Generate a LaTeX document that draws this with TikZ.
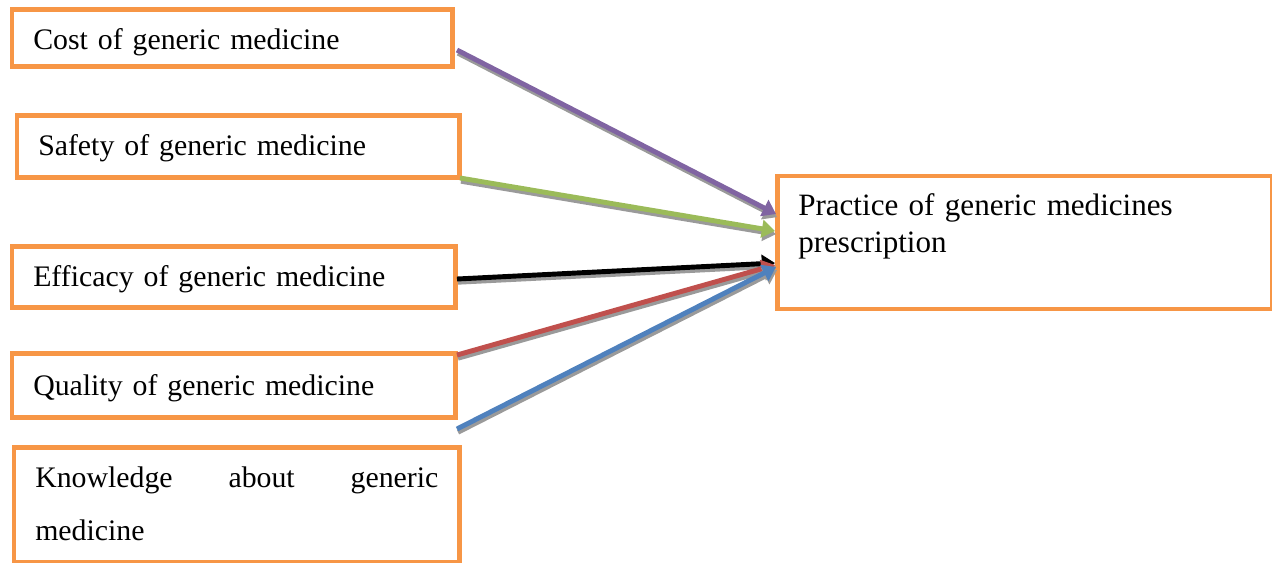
\documentclass[tikz,border=0pt]{standalone}
\usepackage{fontspec}
\setmainfont{Liberation Serif}
\usetikzlibrary{arrows.meta}

\definecolor{boxorange}{HTML}{F79646}
\definecolor{linkpurple}{HTML}{8064A2}
\definecolor{linkgreen}{HTML}{9BBB59}
\definecolor{linkred}{HTML}{C0504D}
\definecolor{linkblue}{HTML}{4F81BD}
\definecolor{shadowgray}{HTML}{9A9A9A}

\tikzset{
  factor/.style={draw=boxorange, line width=3.2pt, anchor=north west,
    inner xsep=0.525cm, inner ysep=0pt, align=left, text height=1cm,
    font=\fontsize{21.2pt}{26pt}\selectfont},
  link/.style={line width=3.5pt, -{Triangle[length=0.33cm,width=0.44cm]}},
  linkshadow/.style={link, draw=shadowgray,
    transform canvas={xshift=0.025cm, yshift=-0.08cm}}
}

\begin{document}
\begin{tikzpicture}[x=0.025cm, y=-0.025cm]
    \useasboundingbox (0,0) rectangle (1272,562);

    % Factor boxes (left column)
    \node[factor, text width=9.95cm, text depth=0.425cm] (cost) at (10,7) {Cost of generic medicine};
    \node[factor, text width=10cm, text depth=0.55cm] (safety) at (15,113) {Safety of generic medicine};
    \node[factor, text width=10.025cm, text depth=0.525cm] (efficacy) at (10,244) {Efficacy of generic medicine};
    \node[factor, text width=10.025cm, text height=1.05cm, text depth=0.55cm] (quality) at (10,351) {Quality of generic medicine};
    \node[factor, text width=10.075cm, text depth=1.875cm,
      font=\fontsize{21.2pt}{37.56pt}\selectfont] (knowledge) at (12,445)
      {Knowledge \hfill about \hfill generic\\ medicine};

    % Outcome box
    \node[factor, text width=11.31cm, text height=0.99cm, text depth=2.34cm,
      font=\fontsize{22.1pt}{26.3pt}\selectfont] (practice) at (775,173.5)
      {Practice of generic medicines\\ prescription};

    % Arrow ends
    \coordinate (costtail) at (457,50);
    \coordinate (safetytail) at (460,178);
    \coordinate (efficacytail) at (457,279);
    \coordinate (qualitytail) at (457,355);
    \coordinate (knowledgetail) at (457,429);
    \coordinate (costhead) at (776,214);
    \coordinate (safetyhead) at (775,231);
    \coordinate (efficacyhead) at (775,263);
    \coordinate (qualityhead) at (775,265);
    \coordinate (knowledgehead) at (776,267);

    % Arrows with shadow
    \foreach \src/\col in {cost/linkpurple, safety/linkgreen, efficacy/black,
        quality/linkred, knowledge/linkblue} {
        \draw[linkshadow] (\src tail) -- (\src head);
        \draw[link, draw=\col] (\src tail) -- (\src head);
    }
\end{tikzpicture}
\end{document}
